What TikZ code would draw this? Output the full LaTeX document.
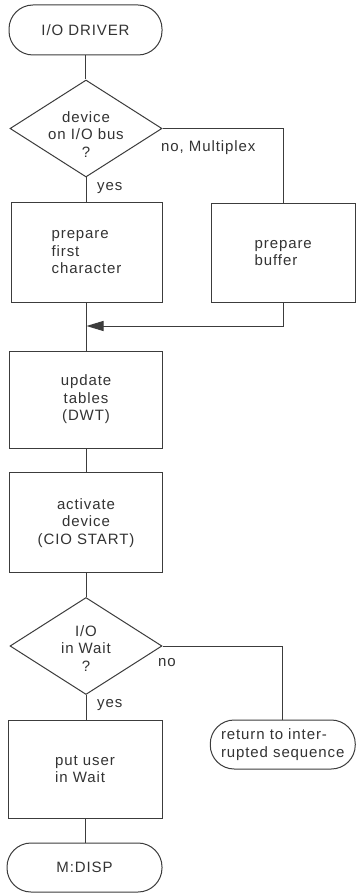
\documentclass[tikz,border=0pt]{standalone}
\usepackage{fontspec}
\setmainfont{Liberation Sans}[LetterSpace=6]
\usetikzlibrary{shapes.geometric,arrows.meta}
\definecolor{ink}{HTML}{333333}
\definecolor{wire}{HTML}{3C3C3C}
\begin{document}
\begin{tikzpicture}[x=1pt,y=-1pt,
  every node/.style={font=\fontsize{15}{17.5}\selectfont, text=ink, inner sep=0pt},
  stepbox/.style={draw=wire, line width=1pt, rectangle},
  terminal/.style={draw=wire, line width=1pt, rectangle, rounded corners=24pt},
  decision/.style={draw=wire, line width=1pt, diamond, minimum width=152pt, minimum height=97pt},
  flow/.style={draw=wire, line width=1pt},
  branch/.style={anchor=west}]
\useasboundingbox (0,0) rectangle (356,893);
\fill[white] (0,0) rectangle (356,893);

% main column
\node[terminal, minimum width=153pt, minimum height=50pt] (start) at (85.5,30) {I/O DRIVER};
\node[decision] (d1) at (86,128.5) {};
\node[align=center] (d1txt) at (86,134.5) {device\\on I/O bus\\?};
\node[stepbox, align=left, minimum width=151pt, minimum height=99pt] (first) at (86.5,252.5) {prepare\\first\\character};
\node[stepbox, align=left, minimum width=144.5pt, minimum height=99pt] (buf) at (283.25,253) {prepare\\buffer};
\coordinate (join) at (86.5,326);
\node[stepbox, align=center, minimum width=152.5pt, minimum height=97pt] (upd) at (86,399.5) {update\\tables\\(DWT)};
\node[stepbox, align=center, minimum width=152.5pt, minimum height=99.5pt] (act) at (86,522.7) {activate\\device\\(CIO START)};
\node[decision] (d2) at (86,646) {};
\node[align=center] (d2txt) at (86,648.5) {I/O\\in Wait\\?};
\node[stepbox, align=left, minimum width=154pt, minimum height=98pt] (wait) at (85,769) {put user\\in Wait};
\node[terminal, minimum width=155pt, minimum height=49pt] (disp) at (84.5,867.5) {M:DISP};
\node[terminal, align=left, minimum width=145pt, minimum height=49pt] (ret) at (282.75,744.5) {return to inter-\\rupted sequence};

% branch labels
\node[branch] (lno1) at (161,148) {no, Multiplex};
\node[branch] (lyes1) at (97,188) {yes};
\node[branch] (lno2) at (158,663) {no};
\node[branch] (lyes2) at (97,705) {yes};

% connectors
\draw[flow] (start.south) -- (start.south |- d1.north);
\draw[flow] (d1.south) -- (d1.south |- first.north);
\draw[flow] (d1.east) -| (buf.north);
\draw[flow] (first.south) -- (upd.north -| first.south);
\draw[flow, -{Triangle[length=17pt,width=10pt]}] (buf.south) |- (join);
\draw[flow] (upd.south) -- (upd.south |- act.north);
\draw[flow] (act.south) -- (act.south |- d2.north);
\draw[flow] (d2.south) -- (d2.south |- wait.north);
\draw[flow] (d2.east) -| (ret.north);
\draw[flow] (wait.south) -- (wait.south |- disp.north);
\end{tikzpicture}
\end{document}
